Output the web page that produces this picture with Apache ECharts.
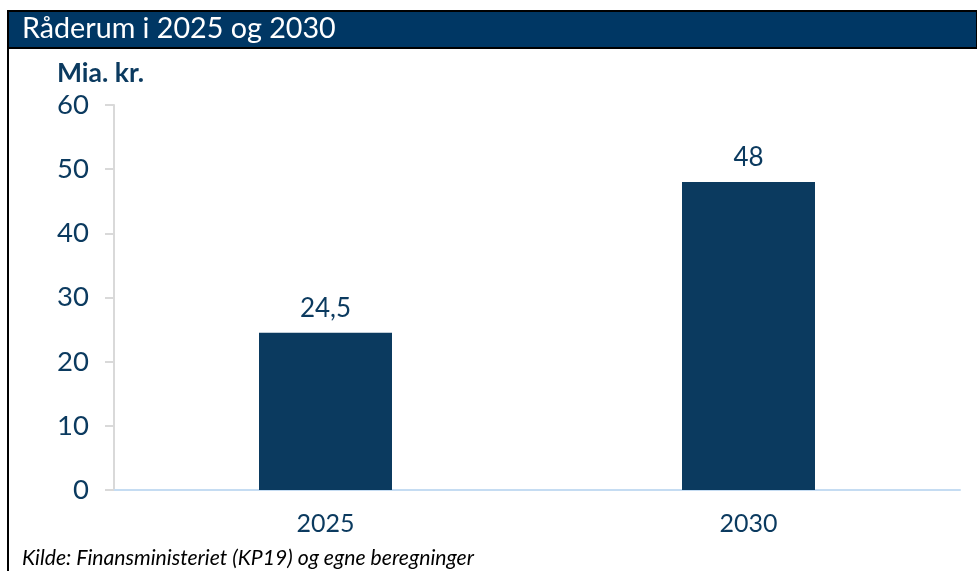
<!DOCTYPE html>
<html>
<head>
<meta charset="utf-8">
<script src="https://cdn.jsdelivr.net/npm/echarts@6/dist/echarts.min.js"></script>
<style>
  html, body { margin: 0; padding: 0; background: #fff; }
  #chart { width: 977px; height: 571px; }
</style>
</head>
<body>
<div id="chart"></div>
<script>
// data
var categories = ['2025', '2030'];
var values = [24.5, 48];
var yTicks = [0, 10, 20, 30, 40, 50, 60];

var navy = '#0b3a5f';
var chart = echarts.init(document.getElementById('chart'));

chart.setOption({
  animation: false,
  textStyle: { fontFamily: 'Lato' },
  grid: { left: 114, right: 17, top: 105, bottom: 81 },
  graphic: [
    // title bar
    { type: 'rect', shape: { x: 8, y: 11, width: 969, height: 37 }, style: { fill: '#003764', stroke: '#000', lineWidth: 2 } },
    { type: 'line', shape: { x1: 8, y1: 11, x2: 8, y2: 571 }, style: { stroke: '#000', lineWidth: 2 } },
    { type: 'text', left: 22, top: 14, style: { text: 'Råderum i 2025 og 2030', fill: '#fff', font: '28.7px Lato' } },
    { type: 'text', left: 57, top: 60, style: { text: 'Mia. kr.', fill: navy, font: 'bold 26.5px Lato' } },
    { type: 'text', left: 22, top: 548, style: { text: 'Kilde: Finansministeriet (KP19) og egne beregninger', fill: '#000', font: 'italic 21.2px Lato' } }
  ],
  xAxis: {
    type: 'category',
    data: categories,
    axisLine: { lineStyle: { color: '#c5dcf2', width: 2 } },
    axisTick: { show: false },
    axisLabel: { color: navy, fontSize: 25, margin: 21 }
  },
  yAxis: {
    type: 'value',
    min: yTicks[0],
    max: yTicks[yTicks.length - 1],
    interval: 10,
    axisLine: { show: true, lineStyle: { color: '#d9d9d9', width: 2 } },
    axisTick: { show: true, length: 9, lineStyle: { color: '#d9d9d9', width: 2 } },
    axisLabel: { color: navy, fontSize: 27.5, margin: 25 },
    splitLine: { show: false }
  },
  series: [{
    type: 'bar',
    data: values,
    barWidth: 133,
    itemStyle: { color: navy },
    label: {
      show: true,
      position: 'top',
      distance: 11,
      color: navy,
      fontSize: 26,
      formatter: function (p) { return String(p.value).replace('.', ','); }
    }
  }]
});
</script>
</body>
</html>
